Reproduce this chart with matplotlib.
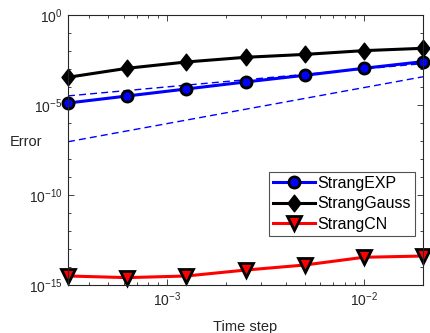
import matplotlib
matplotlib.use("Agg")
import matplotlib.pyplot as plt
import numpy as np
from matplotlib.path import Path
from matplotlib.ticker import LogLocator, FixedLocator, NullFormatter

plt.rcParams['font.family'] = ['Liberation Sans', 'DejaVu Sans']
plt.rcParams['mathtext.fontset'] = 'custom'
plt.rcParams['mathtext.rm'] = 'Liberation Sans'
plt.rcParams['mathtext.it'] = 'Liberation Sans'

dt = [0.0003125, 0.000625, 0.00125, 0.0025, 0.005, 0.01, 0.02]
err_exp = [10**-4.89, 10**-4.50, 10**-4.11, 10**-3.72, 10**-3.35, 10**-2.96, 10**-2.59]
err_gauss = [10**-3.46, 10**-2.96, 10**-2.61, 10**-2.35, 10**-2.19, 10**-1.98, 10**-1.85]
err_cn = [10**-14.50, 10**-14.59, 10**-14.50, 10**-14.17, 10**-13.89, 10**-13.46, 10**-13.39]
ref_dt = [0.0003125, 0.02]
ref_order1 = [3.2e-5, 2.0e-3]
ref_order2 = [9.1e-8, 3.7e-4]

labels = ['StrangEXP', 'StrangGauss', 'StrangCN']

diamond = Path([(0, 1), (0.78, 0), (0, -1), (-0.78, 0), (0, 1)],
               [Path.MOVETO, Path.LINETO, Path.LINETO, Path.LINETO, Path.CLOSEPOLY])

fig = plt.figure(figsize=(4.30, 3.33), dpi=100)
ax = fig.add_axes([68/430, 1-285/333, 355/430, 270/333])

ax.loglog(ref_dt, ref_order1, '--', color='#0000ff', lw=1.0, dashes=(5, 3))
ax.loglog(ref_dt, ref_order2, '--', color='#0000ff', lw=1.0, dashes=(5, 3))

l1, = ax.loglog(dt, err_exp, '-', color='#0000ff', lw=2.2, marker='o', ms=8,
                mfc='#0000ff', mec='black', mew=2, label=labels[0])
l2, = ax.loglog(dt, err_gauss, '-', color='black', lw=2.2, marker=diamond, ms=12,
                mfc='black', mec='black', mew=1, label=labels[1])
l3, = ax.loglog(dt, err_cn, '-', color='#ff0000', lw=2.2, marker='v', ms=9.5,
                mfc='#ff0000', mec='black', mew=2, label=labels[2])
for l in (l1, l2, l3):
    l.set_clip_on(False)

ax.set_xlim(0.0003125, 0.02)
ax.set_ylim(1e-15, 1e0)

ax.yaxis.set_major_locator(FixedLocator([1e-15, 1e-10, 1e-5, 1e0]))
ax.yaxis.set_minor_locator(FixedLocator([10.0**k for k in range(-15, 1)]))
ax.yaxis.set_minor_formatter(NullFormatter())
ax.xaxis.set_major_locator(FixedLocator([1e-3, 1e-2]))
ax.xaxis.set_minor_locator(LogLocator(base=10, subs=np.arange(2, 10), numticks=20))
ax.xaxis.set_minor_formatter(NullFormatter())

axcol = '#262626'
for s in ax.spines.values():
    s.set_color(axcol)
    s.set_linewidth(0.8)
ax.tick_params(which='both', direction='in', top=True, right=True, colors=axcol,
               labelsize=10, width=0.6)
ax.tick_params(which='major', length=4.5)
ax.tick_params(which='minor', length=2.5)
ax.tick_params(axis='x', pad=4)
ax.tick_params(axis='y', pad=4)

ax.set_xlabel('Time step', fontsize=10.5, color=axcol, labelpad=8)
ax.set_ylabel('Error', fontsize=10.5, color=axcol, rotation=0, va='center', ha='center')
ax.yaxis.set_label_coords(-0.118, 0.53)

leg = ax.legend(handles=[l1, l2, l3], loc='upper right', bbox_to_anchor=(0.977, 0.42),
                fontsize=11.5, frameon=True, fancybox=False, edgecolor=axcol,
                handlelength=2.6, handletextpad=0.15, borderpad=0.25, labelspacing=0.35,
                borderaxespad=0.0)
leg.get_frame().set_linewidth(0.8)

fig.savefig('out.png', dpi=100)
